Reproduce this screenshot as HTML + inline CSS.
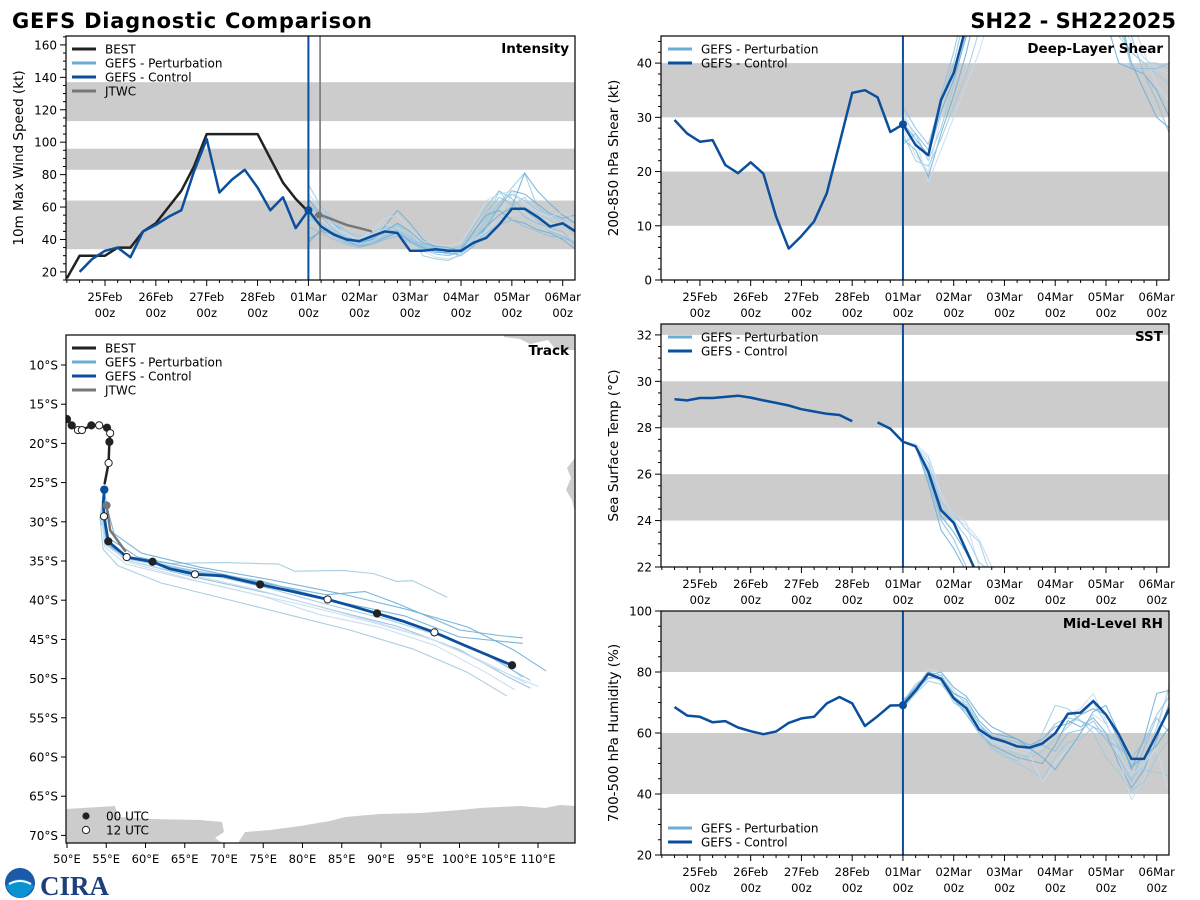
<!DOCTYPE html>
<html><head><meta charset="utf-8"><title>GEFS Diagnostic Comparison</title>
<style>
html,body{margin:0;padding:0;background:#fff;}
svg{display:block;font-family:"DejaVu Sans","Liberation Sans",sans-serif;}
</style></head>
<body>
<svg id="fig" width="1200" height="900" viewBox="0 0 1200 900" xmlns="http://www.w3.org/2000/svg">
<text x="12" y="28" font-size="21" font-weight="bold" textLength="360">GEFS Diagnostic Comparison</text>
<text x="1176" y="28" font-size="21" font-weight="bold" text-anchor="end">SH22 - SH222025</text>
<g>
<circle cx="20" cy="883" r="15" fill="#1a5aa8"/>
<path d="M6,886 Q20,872 34,886 Q28,897 20,898 Q11,897 6,886Z" fill="#0a93d1"/>
<path d="M9,884 Q20,878 31,884" stroke="#fff" stroke-width="2" fill="none"/>
</g>
<text x="40" y="895" font-size="27" font-weight="bold" fill="#1d3f7a" font-family="Liberation Serif, serif">CIRA</text>
<g id="root"></g>
</svg>
<script>
// ---------- DATA ----------
const dayLabels = ["25Feb","26Feb","27Feb","28Feb","01Mar","02Mar","03Mar","04Mar","05Mar","06Mar"];
// Intensity (kt)
const bestT = [6,12,18,24,30,36,42,48,54,60,66,72,78,84,90,96,102,108,114,120];
const bestV = [16,30,30,30,35,35,45,50,60,70,85,105,105,105,105,105,90,75,65,57];
const ctrlIntT0 = 12;
const ctrlIntV = [20,28,33,35,29,45,49,54,58,82,102,69,77,83,72,58,66,47,58,48,43,40,39,42,45,44,33,33,34,33,33,38,41,49,59,59,54,48,50,45];
const jtwcT = [123,126,132,138,144,150];
const jtwcV = [55,55,52,49,47,45];
const pertIntV = [
 [74,60,52,45,42,44,50,46,38,35,33,31,32,40,50,62,72,81,60,55,52,50],
 [65,55,50,42,38,40,48,58,50,40,35,32,30,36,48,60,70,68,62,56,53,55],
 [50,52,48,43,40,45,50,47,40,33,29,28,30,38,45,55,68,62,58,50,48,45],
 [55,48,42,38,36,38,42,45,40,37,35,34,36,48,60,70,65,58,52,45,42,38],
 [60,58,50,45,40,42,47,48,42,36,34,34,35,42,52,63,68,64,58,55,50,42],
 [40,45,43,40,38,40,45,50,45,38,36,35,33,40,48,55,60,81,70,62,55,50],
 [57,52,46,42,40,43,46,43,37,34,33,33,34,40,45,52,55,57,50,46,43,40],
 [62,54,46,41,38,41,44,46,41,36,33,31,33,44,57,66,62,54,50,47,45,36],
 [52,50,45,40,37,39,43,49,44,30,28,27,31,39,53,70,60,66,56,52,48,46],
 [38,46,44,39,36,37,41,44,39,35,32,32,34,45,55,58,52,50,46,44,40,34],
 [68,58,48,43,40,46,53,55,46,39,37,36,38,50,64,68,70,62,57,54,57,52],
 [48,44,40,37,35,37,40,42,38,34,31,30,32,38,44,49,52,48,45,42,41,38]
];
// Shear (kt)
const ctrlShearT0 = 12;
const ctrlShearV = [29.5,27,25.5,25.8,21.2,19.7,21.7,19.6,11.7,5.8,8.1,10.8,16,25.2,34.5,35,33.7,27.3,28.7,24.9,23,33.2,38.2,47];
const pertShearV = [
 [30,27,22,28,36,46,58,62,62,62,62,62,62,62,62,60,52,46,42,40,38,36],
 [26,24,19,27,34,42,52,60,62,62,62,62,62,62,62,62,48,40,39,38,35,30],
 [28,23,20,30,38,47,56,62,62,62,62,62,62,62,62,62,55,47,44,41,39,38],
 [32,28,25,33,40,50,60,62,62,62,62,62,62,62,62,62,62,52,45,38,33,27],
 [27,22,21,26,32,38,46,55,62,62,62,62,62,62,62,62,50,45,42,40,40,39],
 [29,26,23,31,37,45,53,62,62,62,62,62,62,62,62,62,60,50,40,35,30,28],
 [31,26,18,24,30,36,42,50,62,62,62,62,62,62,62,62,62,56,48,42,36,33],
 [25,27,24,34,42,52,62,62,62,62,62,62,62,62,62,62,58,49,39,39,39,40]
];
// SST (C)
const ctrlSstT0 = 12;
const ctrlSstV = [29.23,29.18,29.28,29.28,29.33,29.38,29.3,29.18,29.07,28.96,28.8,28.7,28.6,28.55,28.28,null,28.23,27.96,27.4,27.2,26.1,24.45,23.9,22.7,21.5];
const pertSstV = [
 [27.4,27.2,26.5,24.8,24.3,23.6,23.1,21.5],
 [27.4,27.2,26.0,24.2,23.5,22.6,21.5,21.0],
 [27.4,27.2,26.7,25.0,24.3,23.9,22.0,21.0],
 [27.4,27.2,25.8,24.0,23.2,22.0,21.0,20.5],
 [27.4,27.2,26.3,24.6,24.0,23.3,22.2,21.8],
 [27.4,27.2,25.6,23.6,22.8,21.8,21.0,20.5],
 [27.4,27.3,26.8,25.2,24.1,23.8,23.2,22.0]
];
// Mid-level RH (%)
const ctrlRhT0 = 12;
const ctrlRhV = [68.5,65.7,65.3,63.5,63.9,61.8,60.6,59.6,60.5,63.3,64.8,65.3,69.7,71.8,69.7,62.3,65.5,69,69.1,73.9,79.4,77.8,71.4,68.1,61.1,58.4,57.2,55.6,55.2,56.6,59.9,66.3,66.7,70.5,66,59.6,51.5,51.5,59.6,68.1];
const pertRhV = [
 [69,75,80,79,73,70,63,58,55,53,52,54,58,62,66,70,63,55,45,50,62,75],
 [70,76,79,78,71,66,60,56,54,52,51,50,56,64,62,65,60,50,42,48,58,70],
 [68,74,81,80,74,69,61,57,56,55,54,55,60,66,68,73,64,52,38,45,60,76],
 [71,74,78,79,72,68,62,59,58,57,55,56,54,60,61,64,58,52,44,55,65,60],
 [69,73,79,77,70,67,61,55,53,50,48,45,52,57,58,62,60,56,50,48,47,46],
 [70,75,80,78,73,71,64,60,59,58,56,58,62,63,66,68,66,58,49,52,56,62],
 [69,76,79,77,72,68,62,58,55,54,53,44,50,55,60,66,63,54,46,50,55,40],
 [70,74,78,78,72,69,63,59,57,56,55,58,63,65,64,62,58,55,52,57,66,72],
 [68,73,77,76,71,67,60,55,52,51,53,60,69,68,64,60,52,47,41,44,52,58],
 [70,75,79,80,75,72,66,62,60,58,55,52,48,54,60,67,69,60,48,58,73,74]
];
// Track (lon E, lat S)
const bestLon = [50.0,50.6,51.4,51.9,53.1,54.1,55.1,55.5,55.4,55.3,54.8];
const bestLat = [16.9,17.7,18.3,18.3,17.7,17.7,18.0,18.7,19.8,22.5,25.1];
const bestMark = [0,0,1,1,0,1,0,1,0,1,-1];
const ctrlLon = [54.75,54.62,54.71,55.26,57.6,60.9,63.1,66.3,69.9,74.6,78.8,83.2,86.1,89.5,92.9,96.8,100.5,106.7];
const ctrlLat = [25.9,27.6,29.3,32.5,34.5,35.1,36.0,36.7,36.9,38.0,38.9,39.9,40.7,41.7,42.7,44.1,45.7,48.3];
const ctrlMark = [-1,-1,1,0,1,0,-1,1,-1,0,-1,1,-1,0,-1,1,-1,0];
const jtwcLon = [55.05,55.5,57.4];
const jtwcLat = [27.9,31.1,33.7];
const pertTrackLon = [
 [54.7,54.3,55.5,58,63,70,77,79,85,89,92,94,98.4],
 [54.7,54.5,55.2,57,65,75,83,88,92,100,105,108],
 [54.7,54.5,55,58,66,75,82,90,97,103,107],
 [54.7,54.4,55,58,66,76,84,92,100,106,109],
 [54.7,54.6,55,58,67,75,83,91,99,105,108],
 [54.7,54.8,55.2,59,68,77,85,93,100,106,108],
 [54.7,54.5,55,58,65,74,82,90,98,104,110],
 [54.7,54.6,55,58.5,66,75,83,91,98,104,109],
 [54.7,54.2,54.6,56.5,62,70,78,86,94,101,106],
 [54.7,55.2,56,59.5,67,76,85,93,101,107,111],
 [54.7,54.4,54.8,57.5,64,72,80,88,96,103,108.5]
];
const pertTrackLat = [
 [25.9,30,33.2,34.6,35.3,35.2,35.4,36.3,36.2,36.6,37.6,37.5,39.6],
 [25.9,29,32.8,34.4,36.2,37.8,39.3,38.9,40.4,43.8,44.5,44.8],
 [25.9,29,33,35.2,37.4,39.5,41.8,43.5,45.8,49,51.4],
 [25.9,29,33,35,37,39.2,41.3,43.3,46.3,49.7,51.2],
 [25.9,29,32.5,34.8,36.5,38.3,40.5,42.5,45,47.7,49.8],
 [25.9,28.5,32,34.5,36.3,38.2,40.3,42,44.7,45.3,45.5],
 [25.9,29,33,35,36.6,38.6,40.8,43,45.5,48.5,51],
 [25.9,29,32.8,34.7,36.2,37.6,39.8,42,44.5,47.3,50.2],
 [25.9,29.5,33.5,35.6,37.8,39.8,41.8,43.8,46.2,49.2,52.2],
 [25.9,28.5,31.5,34,35.8,37.4,39.2,41.1,43.4,46.4,49],
 [25.9,29.2,33.2,35.4,37,38.8,40.6,42.6,44.8,47.8,50.6]
];

// ---------- HELPERS ----------
const NS = "http://www.w3.org/2000/svg";
const root = document.getElementById('root');
function el(tag, attrs, parent) {
  const e = document.createElementNS(NS, tag);
  for (const k in attrs) e.setAttribute(k, attrs[k]);
  (parent || root).appendChild(e);
  return e;
}
function txt(str, attrs, parent) { const e = el('text', attrs, parent); e.textContent = str; return e; }
const CTRL = "#0b4f9c", PERT = ["#9ecae1","#6baed6","#c6dbef","#8fbfe0"], BAND = "#cccccc";
const T0 = 5.6, T1 = 245.8;

function makeTimePanel(cfg) {
  const g = el('g', {});
  
  
  const X = t => cfg.x0 + (t - T0) / (T1 - T0) * (cfg.x1 - cfg.x0);
  const Y = v => cfg.y1 - (v - cfg.ymin) / (cfg.ymax - cfg.ymin) * (cfg.y1 - cfg.y0);
  const cid = 'clip-' + cfg.name;
  const cp = el('clipPath', {id: cid}, g);
  el('rect', {x: cfg.x0, y: cfg.y0, width: cfg.x1 - cfg.x0, height: cfg.y1 - cfg.y0}, cp);
  const plot = el('g', {'clip-path': 'url(#' + cid + ')'}, g);
  cfg.bands.forEach(b => {
    const r = el('rect', {x: cfg.x0, y: Y(b[1]), width: cfg.x1 - cfg.x0, height: Y(b[0]) - Y(b[1]), fill: BAND}, plot);
    
    
  });
  for (let v = Math.ceil(cfg.ymin / cfg.minor) * cfg.minor; v <= cfg.ymax + 1e-9; v += cfg.minor) {
    const major = Math.abs(v / cfg.major - Math.round(v / cfg.major)) < 1e-6;
    el('line', {x1: cfg.x0 - (major ? 6 : 3), x2: cfg.x0, y1: Y(v), y2: Y(v), stroke: '#000', 'stroke-width': 1}, g);
    if (major) {
      const t = txt(String(Math.round(v)), {x: cfg.x0 - 9, y: Y(v) + 4.5, 'font-size': 12, 'text-anchor': 'end'}, g);
      
      
    }
  }
  for (let t = 6; t <= T1; t += 6) {
    const major = t % 24 === 0;
    el('line', {x1: X(t), x2: X(t), y1: cfg.y1, y2: cfg.y1 + (major ? 6 : 3), stroke: '#000', 'stroke-width': 1}, g);
    if (major) {
      const lab = dayLabels[t / 24 - 1];
      if (!lab) continue;
      const a = txt(lab, {x: X(t), y: cfg.y1 + 21, 'font-size': 11.5, 'text-anchor': 'middle'}, g);
      
      
      const b = txt('00z', {x: X(t), y: cfg.y1 + 37, 'font-size': 11.5, 'text-anchor': 'middle'}, g);
      
      
    }
  }
  const yl = txt(cfg.ylabel, {x: 0, y: 0, 'font-size': 13.5, 'text-anchor': 'middle',
    transform: 'translate(' + (cfg.x0 - 43) + ',' + ((cfg.y0 + cfg.y1) / 2) + ') rotate(-90)'}, g);
  
  
  const pt = txt(cfg.title, {x: cfg.x1 - 6, y: cfg.y0 + 17, 'font-size': 13.5, 'font-weight': 'bold', 'text-anchor': 'end'}, g);
  
  
  return {g, plot, X, Y, cfg};
}
function seriesPath(P, t0, vals, attrs, name) {
  let d = '', pen = false;
  vals.forEach((v, i) => {
    if (v === null) { pen = false; return; }
    d += (pen ? 'L' : 'M') + P.X(t0 + 6 * i).toFixed(1) + ',' + P.Y(v).toFixed(1);
    pen = true;
  });
  const p = el('path', Object.assign({d, fill: 'none', 'stroke-linejoin': 'round'}, attrs), P.plot);
  
  
  return p;
}
function xyPath(P, ts, vals, attrs, name) {
  let d = '';
  ts.forEach((t, i) => { d += (i ? 'L' : 'M') + P.X(t).toFixed(1) + ',' + P.Y(vals[i]).toFixed(1); });
  const p = el('path', Object.assign({d, fill: 'none', 'stroke-linejoin': 'round'}, attrs), P.plot);
  
  
}
function vline(P, t, color, w, name) {
  const l = el('line', {x1: P.X(t), x2: P.X(t), y1: P.cfg.y0, y2: P.cfg.y1, stroke: color, 'stroke-width': w}, P.plot);
  
  
}
function frame(P) {
  const c = P.cfg;
  el('rect', {x: c.x0, y: c.y0, width: c.x1 - c.x0, height: c.y1 - c.y0, fill: 'none', stroke: '#000', 'stroke-width': 1.2}, P.g);
}
function legend(parent, x, y, items) {
  items.forEach((it, i) => {
    const g = el('g', {}, parent);
    
    
    el('line', {x1: x, x2: x + 24, y1: y + 14 * i, y2: y + 14 * i, stroke: it[1], 'stroke-width': 3}, g);
    txt(it[0], {x: x + 33, y: y + 14 * i + 4.5, 'font-size': 12}, g);
  });
}

// ---------- INTENSITY ----------
const PI = makeTimePanel({name: 'intensity-panel', x0: 66, x1: 575, y0: 36, y1: 280, ymin: 15, ymax: 165.5, major: 20, minor: 5,
  bands: [[34, 64], [83, 96], [113, 137]], ylabel: '10m Max Wind Speed (kt)', title: 'Intensity'});
pertIntV.forEach((m, i) => seriesPath(PI, 120, m, {stroke: PERT[i % 4], 'stroke-width': 1.1, opacity: 0.85}, 'perturbation-line'));
vline(PI, 120, CTRL, 2, 'init-time-line');
vline(PI, 125.5, '#777', 1.6, 'jtwc-time-line');
xyPath(PI, bestT, bestV, {stroke: '#222', 'stroke-width': 2.5}, 'best-track-line');
seriesPath(PI, ctrlIntT0, ctrlIntV, {stroke: CTRL, 'stroke-width': 2.5}, 'control-line');
xyPath(PI, jtwcT, jtwcV, {stroke: '#777', 'stroke-width': 2.5}, 'jtwc-line');
el('circle', {cx: PI.X(120), cy: PI.Y(ctrlIntV[(120 - ctrlIntT0) / 6]), r: 4, fill: CTRL}, PI.plot);
el('circle', {cx: PI.X(jtwcT[0] + 2), cy: PI.Y(jtwcV[0]), r: 3.5, fill: '#777'}, PI.plot);
frame(PI);
legend(PI.g, 72, 49, [['BEST', '#222'], ['GEFS - Perturbation', '#6baed6'], ['GEFS - Control', CTRL], ['JTWC', '#777']]);

// ---------- SHEAR ----------
const PS = makeTimePanel({name: 'shear-panel', x0: 661, x1: 1169, y0: 36, y1: 280, ymin: 0, ymax: 45, major: 10, minor: 2,
  bands: [[10, 20], [30, 40]], ylabel: '200-850 hPa Shear (kt)', title: 'Deep-Layer Shear'});
pertShearV.forEach((m, i) => seriesPath(PS, 120, m, {stroke: PERT[i % 4], 'stroke-width': 1.1, opacity: 0.85}, 'perturbation-line'));
vline(PS, 120, CTRL, 2, 'init-time-line');
seriesPath(PS, ctrlShearT0, ctrlShearV, {stroke: CTRL, 'stroke-width': 2.5}, 'control-line');
el('circle', {cx: PS.X(120), cy: PS.Y(ctrlShearV[(120 - ctrlShearT0) / 6]), r: 4, fill: CTRL}, PS.plot);
frame(PS);
legend(PS.g, 668, 49, [['GEFS - Perturbation', '#6baed6'], ['GEFS - Control', CTRL]]);

// ---------- SST ----------
const PT = makeTimePanel({name: 'sst-panel', x0: 661, x1: 1169, y0: 324, y1: 567, ymin: 22, ymax: 32.47, major: 2, minor: 0.5,
  bands: [[24, 26], [28, 30], [32, 34]], ylabel: 'Sea Surface Temp (°C)', title: 'SST'});
pertSstV.forEach((m, i) => seriesPath(PT, 120, m, {stroke: PERT[i % 4], 'stroke-width': 1.1, opacity: 0.85}, 'perturbation-line'));
vline(PT, 120, CTRL, 2, 'init-time-line');
seriesPath(PT, ctrlSstT0, ctrlSstV, {stroke: CTRL, 'stroke-width': 2.5}, 'control-line');
frame(PT);
legend(PT.g, 668, 337, [['GEFS - Perturbation', '#6baed6'], ['GEFS - Control', CTRL]]);

// ---------- RH ----------
const PR = makeTimePanel({name: 'rh-panel', x0: 661, x1: 1169, y0: 611, y1: 855, ymin: 20, ymax: 100, major: 20, minor: 5,
  bands: [[40, 60], [80, 100]], ylabel: '700-500 hPa Humidity (%)', title: 'Mid-Level RH'});
pertRhV.forEach((m, i) => seriesPath(PR, 120, m, {stroke: PERT[i % 4], 'stroke-width': 1.1, opacity: 0.85}, 'perturbation-line'));
vline(PR, 120, CTRL, 2, 'init-time-line');
seriesPath(PR, ctrlRhT0, ctrlRhV, {stroke: CTRL, 'stroke-width': 2.5}, 'control-line');
el('circle', {cx: PR.X(120), cy: PR.Y(ctrlRhV[(120 - ctrlRhT0) / 6]), r: 4, fill: CTRL}, PR.plot);
frame(PR);
legend(PR.g, 668, 828, [['GEFS - Perturbation', '#6baed6'], ['GEFS - Control', CTRL]]);

// ---------- TRACK ----------
const TK = {x0: 66, x1: 575, y0: 335, y1: 843};
const LX = lon => 67 + (lon - 50) * 7.85;
const LY = lat => 365 + (lat - 10) * 7.84;
const tg = el('g', {});


const tcp = el('clipPath', {id: 'clip-track'}, tg);
el('rect', {x: TK.x0, y: TK.y0, width: TK.x1 - TK.x0, height: TK.y1 - TK.y0}, tcp);
const tp = el('g', {'clip-path': 'url(#clip-track)'}, tg);
const land = [
 'M66,809 L115,806 L118,817 L150,819 L200,820 L222,822 L224,832 L215,838 L222,843 L66,843Z',
 'M238,843 L245,832 L270,830 L300,826 L330,821 L345,817 L380,814 L420,813 L460,810 L480,808 L520,806 L545,808 L560,805 L575,806 L575,843Z',
 'M504,337 L520,339 L530,344 L548,340 L556,350 L575,350 L575,335 L504,335Z',
 'M575,458 L567,468 L571,478 L566,490 L572,500 L575,512Z'
];
land.forEach(d => {
  const p = el('path', {d, fill: '#cccccc'}, tp);
  
  
});
function trackPath(lons, lats, attrs, name) {
  let d = '';
  lons.forEach((lo, i) => { d += (i ? 'L' : 'M') + LX(lo).toFixed(1) + ',' + LY(lats[i]).toFixed(1); });
  const p = el('path', Object.assign({d, fill: 'none', 'stroke-linejoin': 'round', 'stroke-linecap': 'round'}, attrs), tp);
  
  
}
pertTrackLon.forEach((lo, i) => trackPath(lo, pertTrackLat[i], {stroke: PERT[i % 4], 'stroke-width': 1.1, opacity: 0.9}, 'perturbation-track'));
trackPath(bestLon, bestLat, {stroke: '#222', 'stroke-width': 2.5}, 'best-track');
trackPath(jtwcLon, jtwcLat, {stroke: '#777', 'stroke-width': 2.5}, 'jtwc-track');
trackPath(ctrlLon, ctrlLat, {stroke: CTRL, 'stroke-width': 2.8}, 'control-track');
function marks(lons, lats, types) {
  lons.forEach((lo, i) => {
    if (types[i] < 0) return;
    const c = el('circle', {cx: LX(lo), cy: LY(lats[i]), r: 3.6, fill: types[i] === 0 ? '#222' : '#fff', stroke: '#222', 'stroke-width': 1}, tp);
    
    
  });
}
marks(bestLon, bestLat, bestMark);
marks(ctrlLon, ctrlLat, ctrlMark);
el('circle', {cx: LX(ctrlLon[0]), cy: LY(ctrlLat[0]), r: 4.2, fill: CTRL}, tp);
el('circle', {cx: LX(jtwcLon[0]), cy: LY(jtwcLat[0]), r: 4, fill: '#777'}, tp);
el('rect', {x: TK.x0, y: TK.y0, width: TK.x1 - TK.x0, height: TK.y1 - TK.y0, fill: 'none', stroke: '#000', 'stroke-width': 1.2}, tg);
for (let la = 10; la <= 70; la += 5) {
  el('line', {x1: TK.x0 - 5, x2: TK.x0, y1: LY(la), y2: LY(la), stroke: '#000'}, tg);
  const t = txt(la + '°S', {x: TK.x0 - 8, y: LY(la) + 4.5, 'font-size': 12, 'text-anchor': 'end'}, tg);
  
  
}
for (let lo = 50; lo <= 110; lo += 5) {
  el('line', {x1: LX(lo), x2: LX(lo), y1: TK.y1, y2: TK.y1 + 5, stroke: '#000'}, tg);
  const t = txt(lo + '°E', {x: LX(lo), y: TK.y1 + 20, 'font-size': 11.5, 'text-anchor': 'middle'}, tg);
  
  
}
txt('Track', {x: TK.x1 - 6, y: TK.y0 + 20, 'font-size': 13.5, 'font-weight': 'bold', 'text-anchor': 'end'}, tg);
legend(tg, 72, 348, [['BEST', '#222'], ['GEFS - Perturbation', '#6baed6'], ['GEFS - Control', CTRL], ['JTWC', '#777']]);
const m0 = el('g', {}, tg);


el('circle', {cx: 86, cy: 816, r: 3.6, fill: '#222'}, m0);
txt('00 UTC', {x: 106, y: 820.5, 'font-size': 12}, m0);
const m1 = el('g', {}, tg);


el('circle', {cx: 86, cy: 830, r: 3.6, fill: '#fff', stroke: '#222'}, m1);
txt('12 UTC', {x: 106, y: 834.5, 'font-size': 12}, m1);
</script>
</body></html>
